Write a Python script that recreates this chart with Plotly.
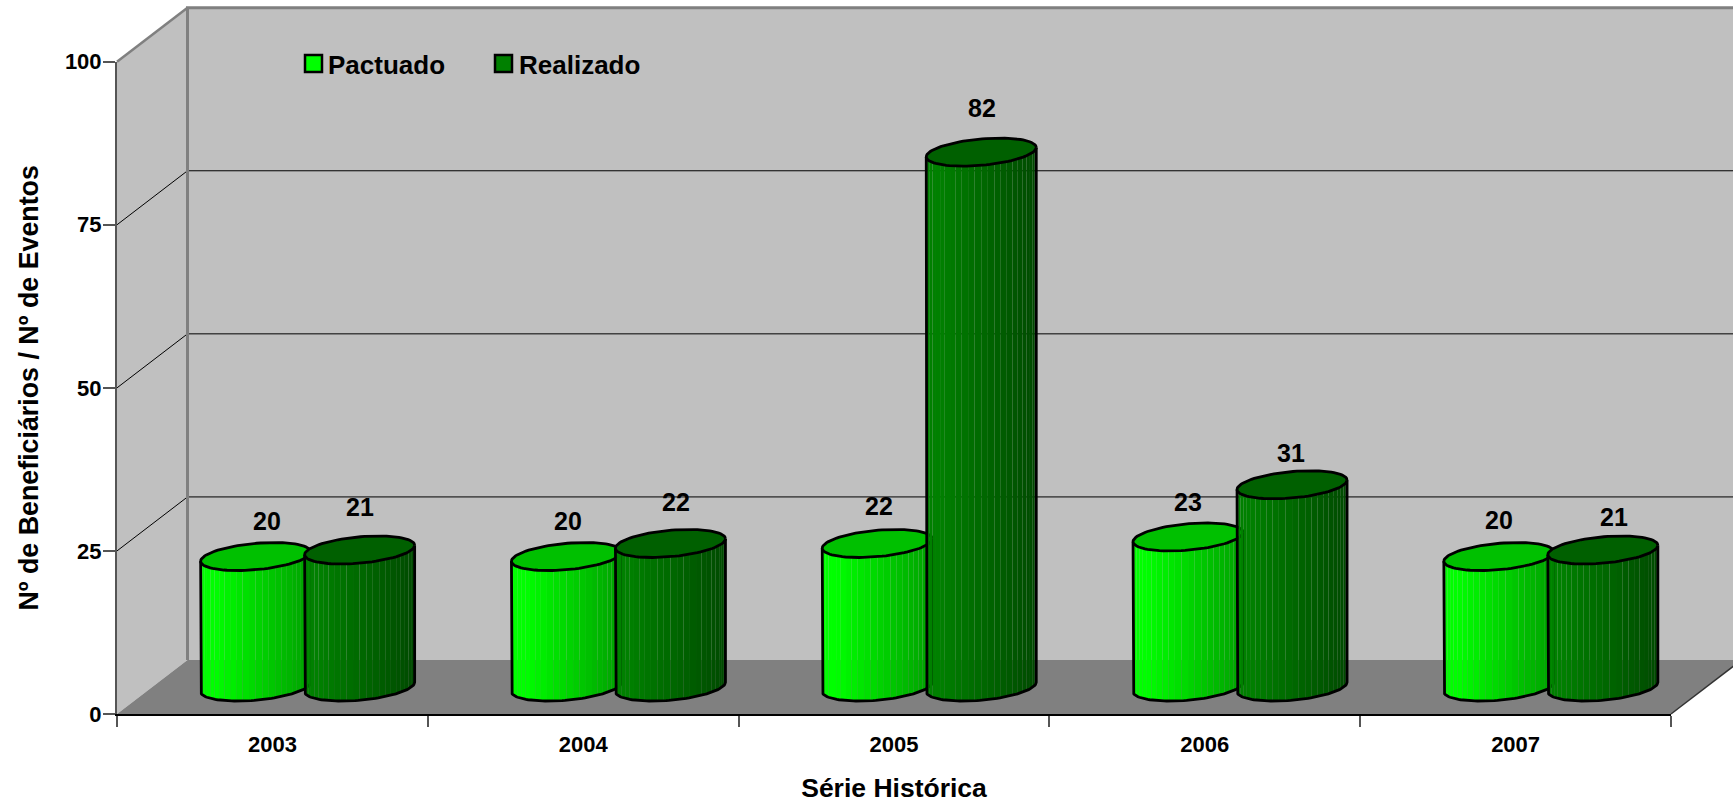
import numpy as np
import plotly.graph_objects as go

# ---- data ----
years = ["2003", "2004", "2005", "2006", "2007"]
pactuado = [20, 20, 22, 23, 20]
realizado = [21, 22, 82, 31, 21]
y_ticks = [0, 25, 50, 75, 100]
grid_values = [25, 50, 75]

# ---- page frame (pixels) ----
W, H = 1733, 804
FX0, FX1, FY0, FY100 = 117, 1671, 714, 61.7
PX_PER_CAT = (FX1 - FX0) / len(years)
PX_PER_VAL = (FY0 - FY100) / 100

# ---- 3D look, in axis units ----
DX = 70.5 / PX_PER_CAT     # depth of the box, categories
DY = 54 / PX_PER_VAL       # depth of the box, values
HALF_W = 55 / PX_PER_CAT   # cylinder radius, categories
SLANT = 4.7 / PX_PER_VAL   # ellipse tilt, values
MINOR = 13.2 / PX_PER_VAL  # ellipse minor radius, values
GAP = 52 / PX_PER_CAT      # cylinder centre from the category centre
N_STRIPS = 26

FONT = "Liberation Sans, Arial, sans-serif"
X0, X1 = -0.5, len(years) - 0.5
fig = go.Figure()


def poly(xs, ys, fill=None, line=None, width=0):
    fig.add_trace(go.Scatter(
        x=xs, y=ys, mode="lines", showlegend=False, hoverinfo="skip",
        fill="toself" if fill else None, fillcolor=fill,
        line=dict(color=line or "rgba(0,0,0,0)", width=width)))


# walls and floor
poly([X0, X0 + DX, X0 + DX, X0, X0], [0, DY, 100 + DY, 100, 0], fill="#C0C0C0")
poly([X0 + DX, X1 + DX, X1 + DX, X0 + DX, X0 + DX], [DY, DY, 100 + DY, 100 + DY, DY], fill="#C0C0C0")
poly([X0, X1, X1 + DX, X0 + DX, X0], [0, 0, DY, DY, 0], fill="#808080")
for g in grid_values:
    poly([X0, X0 + DX, X1 + DX], [g, g + DY, g + DY], line="#000000", width=1)
poly([X0 + DX, X0 + DX, X1 + DX], [DY, 100 + DY, 100 + DY], line="#808080", width=3)
poly([X0, X0 + DX], [100, 100 + DY], line="#808080", width=2.5)
poly([X1, X1 + DX], [0, DY], line="#333333", width=1.5)


def lerp(c0, c1, f):
    return "rgb(%d,%d,%d)" % tuple(round(a + (b - a) * f) for a, b in zip(c0, c1))


def cylinder(cx, value, left, right, top):
    base = DY / 2
    th = np.linspace(np.pi, 0, N_STRIPS + 1)
    u = np.cos(th)
    for i in range(N_STRIPS):
        ua = np.linspace(u[i], u[i + 1], 5)
        low = base + SLANT * ua - MINOR * np.sqrt(np.clip(1 - ua ** 2, 0, 1))
        xs = cx + HALF_W * ua
        f = max(0.0, ((u[i] + u[i + 1]) / 2 + 0.75) / 1.75)
        poly(list(xs) + list(xs[::-1]) + [xs[0]],
             list(low) + list((low + value)[::-1]) + [low[0]],
             fill=lerp(left, right, f))
    # outline of the body and lid
    t = np.linspace(np.pi, 2 * np.pi, 60)
    ub = np.cos(t)
    low = base + SLANT * ub + MINOR * np.sin(t)
    xs = cx + HALF_W * ub
    poly([xs[0]] + list(xs) + [xs[-1]], [base - SLANT + value] + list(low) + [base + SLANT + value],
         line="#000000", width=2.8)
    t = np.linspace(0, 2 * np.pi, 90)
    poly(cx + HALF_W * np.cos(t), base + value + SLANT * np.cos(t) + MINOR * np.sin(t),
         fill=top, line="#000000", width=2.8)


for i, (p, r) in enumerate(zip(pactuado, realizado)):
    c = i + DX / 2
    cylinder(c - GAP, p, (0, 255, 0), (0, 160, 0), "#00C000")
    cylinder(c + GAP, r, (0, 128, 0), (0, 74, 0), "#006000")


def page_x(px):
    return X0 + (px - FX0) / PX_PER_CAT


def page_y(py):
    return (FY0 - py) / PX_PER_VAL


bold = dict(family=FONT, color="#000000", weight="bold")

# legend: swatches and names
ann = []
for name, col, sw, tx in (("Pactuado", "#00FF00", 313.5, 326), ("Realizado", "#008000", 503.5, 517)):
    fig.add_trace(go.Scatter(x=[page_x(sw)], y=[page_y(63.5)], mode="markers", name=name, hoverinfo="skip",
                             showlegend=False, cliponaxis=False,
                             marker=dict(symbol="square", size=17, color=col,
                                         line=dict(color="#000000", width=2.5))))
    ann.append(dict(x=tx / W, y=1 - 65 / H, xref="paper", yref="paper", text=name, showarrow=False,
                    xanchor="left", yanchor="middle", font=dict(size=26, **bold)))

# visible axes, on top of the drawing
fig.add_trace(go.Scatter(x=years, y=realizado, xaxis="x2", yaxis="y2", mode="markers",
                         marker=dict(opacity=0), showlegend=False, hoverinfo="skip"))

# value labels
nudge_x = [[11, 2, 2, 0, 0], [0, 6, 1, -1, 11]]
nudge_y = [[36, 36, 37, 35, 37], [43, 41, 44, 32, 33]]
for s, vals in enumerate((pactuado, realizado)):
    for i, v in enumerate(vals):
        ann.append(dict(x=i + DX / 2 + (2 * s - 1) * GAP, y=v + DY / 2, xref="x", yref="y",
                        text=str(v), showarrow=False, xanchor="center", yanchor="middle",
                        xshift=nudge_x[s][i], yshift=nudge_y[s][i],
                        font=dict(size=25, **bold)))

fig.update_layout(
    width=W, height=H, autosize=False, margin=dict(l=0, r=0, t=0, b=0, autoexpand=False),
    paper_bgcolor="#FFFFFF", plot_bgcolor="rgba(0,0,0,0)", hovermode=False,
    annotations=ann, showlegend=False,
    xaxis=dict(domain=[0, 1], visible=False, fixedrange=True,
               range=[X0 - FX0 / PX_PER_CAT, X0 + (W - FX0) / PX_PER_CAT]),
    yaxis=dict(domain=[0, 1], visible=False, fixedrange=True,
               range=[(FY0 - H) / PX_PER_VAL, FY0 / PX_PER_VAL]),
    xaxis2=dict(domain=[FX0 / W, FX1 / W], anchor="y2", type="category", categoryorder="array",
                categoryarray=years, range=[X0, X1], tickson="boundaries", ticks="outside",
                ticklen=11, tickwidth=1.5, tickcolor="#555555", showgrid=False, zeroline=False,
                showline=True, linecolor="#000000", linewidth=2, fixedrange=True,
                tickfont=dict(size=22, **bold), ticklabelstandoff=10,
                title=dict(text="Série Histórica", font=dict(size=26.5, **bold), standoff=22)),
    yaxis2=dict(domain=[1 - FY0 / H, 1 - FY100 / H], anchor="x2", range=[0, 100],
                tickmode="array", tickvals=y_ticks, ticks="outside", ticklen=12, tickwidth=1.5,
                tickcolor="#555555", showgrid=False, zeroline=False, showline=True,
                linecolor="#555555", linewidth=2, fixedrange=True,
                tickfont=dict(size=22, **bold), ticklabelstandoff=-3,
                title=dict(text="Nº de Beneficiários / Nº de Eventos", font=dict(size=26.8, **bold), standoff=18)),
)

fig.write_html("out.html", config=dict(displayModeBar=False),
               post_script="document.body.style.margin='0';document.body.style.overflow='hidden';")
